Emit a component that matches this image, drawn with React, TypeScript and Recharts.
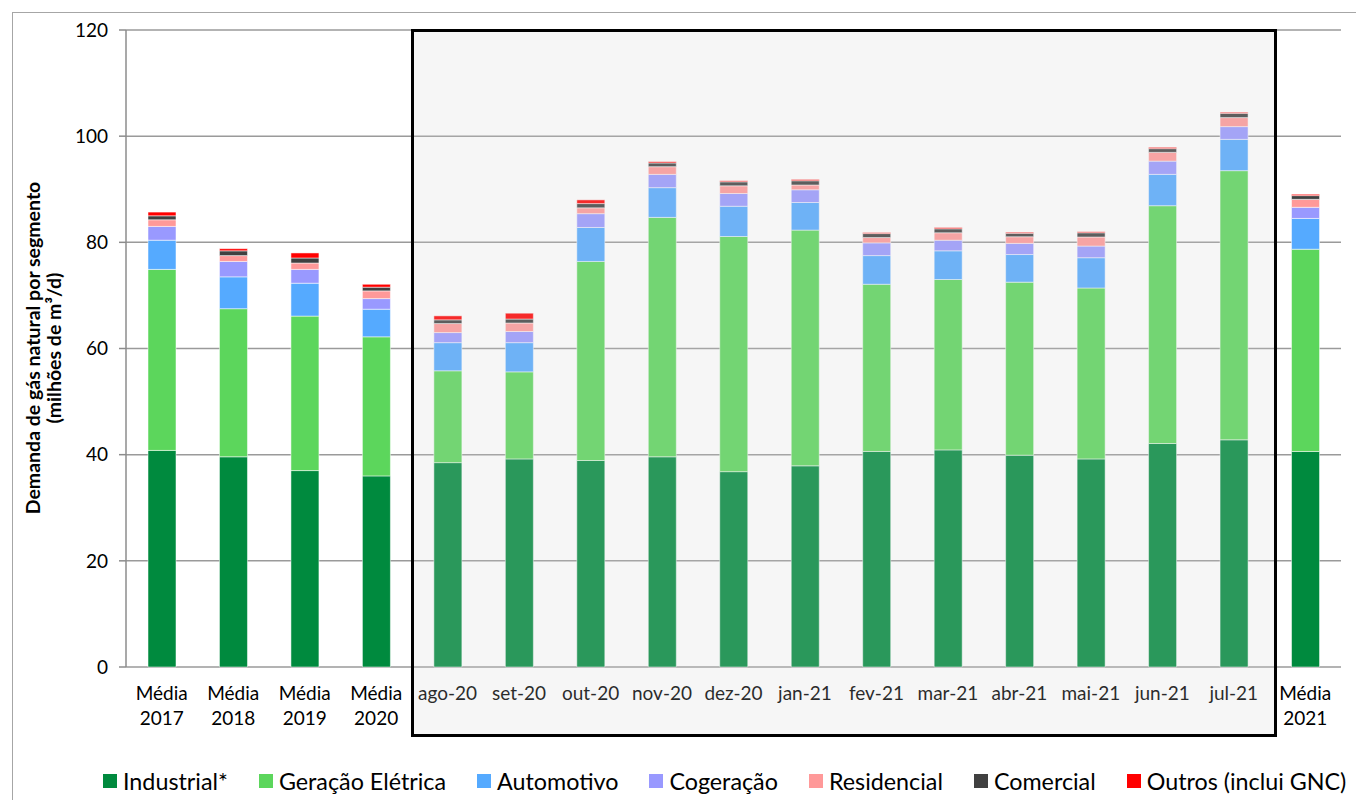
import { BarChart, Bar, XAxis, YAxis, CartesianGrid } from "recharts";

// categories on the x axis
const categories = [
  "Média 2017", "Média 2018", "Média 2019", "Média 2020",
  "ago-20", "set-20", "out-20", "nov-20", "dez-20", "jan-21",
  "fev-21", "mar-21", "abr-21", "mai-21", "jun-21", "jul-21",
  "Média 2021",
];

// milhões de m³/d
const industrial = [40.8, 39.6, 37.0, 36.0, 38.5, 39.2, 38.9, 39.6, 36.8, 37.9, 40.6, 40.9, 39.9, 39.2, 42.1, 42.8, 40.6];
const geracao = [34.1, 27.9, 29.1, 26.2, 17.3, 16.4, 37.5, 45.1, 44.3, 44.4, 31.5, 32.1, 32.6, 32.2, 44.8, 50.7, 38.1];
const automotivo = [5.5, 6.0, 6.2, 5.2, 5.3, 5.5, 6.4, 5.6, 5.7, 5.2, 5.4, 5.4, 5.2, 5.7, 5.9, 5.9, 5.8];
const cogeracao = [2.6, 2.9, 2.6, 2.0, 1.9, 2.1, 2.6, 2.5, 2.4, 2.4, 2.4, 2.0, 2.1, 2.2, 2.5, 2.4, 2.1];
const residencial = [1.25, 1.1, 1.2, 1.45, 1.7, 1.6, 1.1, 1.45, 1.45, 0.9, 1.0, 1.4, 1.25, 1.7, 1.65, 1.7, 1.5];
const comercial = [0.75, 0.9, 0.95, 0.7, 0.7, 0.75, 0.8, 0.7, 0.75, 0.8, 0.75, 0.75, 0.65, 0.8, 0.7, 0.8, 0.7];
const outros = [0.7, 0.4, 0.95, 0.55, 0.75, 1.1, 0.7, 0.25, 0.2, 0.25, 0.2, 0.25, 0.2, 0.2, 0.25, 0.2, 0.25];

const yTicks = [0, 20, 40, 60, 80, 100, 120];
const boundaryTicks = categories.map((_, i) => i).concat([categories.length]);

const series = [
  { key: "industrial", name: "Industrial*", color: "#008A3E", values: industrial },
  { key: "geracao", name: "Geração Elétrica", color: "#5CD65C", values: geracao },
  { key: "automotivo", name: "Automotivo", color: "#55AAFF", values: automotivo },
  { key: "cogeracao", name: "Cogeração", color: "#9999FF", values: cogeracao },
  { key: "residencial", name: "Residencial", color: "#FF9999", values: residencial },
  { key: "comercial", name: "Comercial", color: "#404040", values: comercial },
  { key: "outros", name: "Outros (inclui GNC)", color: "#FF0000", values: outros },
];

const data = categories.map((cat, i) => {
  const row: any = { cat };
  series.forEach((s) => (row[s.key] = s.values[i]));
  return row;
});

const FONT = "Lato, 'Open Sans', sans-serif";

const CatTick = (props: any) => {
  const { x, y, payload } = props;
  const parts = payload.value.startsWith("Média") ? payload.value.split(" ") : [payload.value];
  return (
    <text x={x} y={y} textAnchor="middle" fontSize={19} fill="#000" fontFamily={FONT}>
      {parts.map((p: string, i: number) => (
        <tspan key={i} x={x} dy={i === 0 ? 33 : 25}>{p}</tspan>
      ))}
    </text>
  );
};

export default function App() {
  return (
    <div style={{ position: "absolute", left: 0, top: 0, width: 1356, height: 800, overflow: "hidden", background: "#fff", fontFamily: FONT }}>
      <div style={{ position: "absolute", left: 12, top: 12, width: 1400, height: 900, borderLeft: "1px solid #a6a6a6", borderTop: "1px solid #a6a6a6" }} />
      <BarChart
        width={1356}
        height={800}
        data={data}
        margin={{ top: 30, right: 15, bottom: 73, left: 0 }}
        style={{ position: "absolute", left: 0, top: 0 }}
      >
        <CartesianGrid vertical={false} stroke="#9a9a9a" strokeWidth={1.5} yAxisId="y" xAxisId="cat" />
        <XAxis
          xAxisId="ticks"
          type="number"
          domain={[0, categories.length]}
          ticks={boundaryTicks}
          allowDataOverflow
          height={0}
          tick={false}
          tickSize={7}
          stroke="#8c8c8c"
          strokeWidth={1.5}
        />
        <XAxis
          xAxisId="cat"
          dataKey="cat"
          interval={0}
          height={60}
          tickLine={false}
          axisLine={false}
          tickSize={0}
          tickMargin={0}
          tick={<CatTick />}
        />
        <YAxis
          yAxisId="y"
          width={126}
          domain={[0, 120]}
          ticks={yTicks}
          tickSize={7}
          tickMargin={11}
          stroke="#8c8c8c"
          strokeWidth={1.5}
          tick={{ fontSize: 19, fill: "#000", fontFamily: FONT }}
        />
        {series.map((s) => (
          <Bar
            key={s.key}
            dataKey={s.key}
            name={s.name}
            stackId="a"
            xAxisId="cat"
            yAxisId="y"
            fill={s.color}
            barSize={28}
            stroke="#ffffff"
            strokeOpacity={0.5}
            strokeWidth={1}
            isAnimationActive={false}
          />
        ))}
      </BarChart>
      <div
        style={{
          position: "absolute",
          left: 411,
          top: 29,
          width: 866,
          height: 708,
          boxSizing: "border-box",
          border: "3.5px solid #000",
          background: "rgba(210,210,210,0.2)",
          pointerEvents: "none",
        }}
      />
      <div
        style={{
          position: "absolute",
          left: 22,
          top: 348,
          width: 0,
          height: 0,
        }}
      >
        <div
          style={{
            position: "absolute",
            transform: "translate(-50%, -50%) rotate(-90deg)",
            left: 21,
            top: 0,
            whiteSpace: "nowrap",
            textAlign: "center",
            fontWeight: 700,
            fontSize: 19.5,
            lineHeight: "21px",
            color: "#000",
          }}
        >
          Demanda de gás natural por segmento
          <br />
          (milhões de m³/d)
        </div>
      </div>
      <div style={{ position: "absolute", left: 103, top: 767, display: "flex", gap: 31, alignItems: "center", fontSize: 23.3, color: "#000", whiteSpace: "nowrap" }}>
        {series.map((s) => (
          <div key={s.key} style={{ display: "flex", alignItems: "center" }}>
            <span style={{ display: "inline-block", width: 14, height: 14, background: s.color, marginRight: 6 }} />
            <span>{s.name}</span>
          </div>
        ))}
      </div>
    </div>
  );
}
